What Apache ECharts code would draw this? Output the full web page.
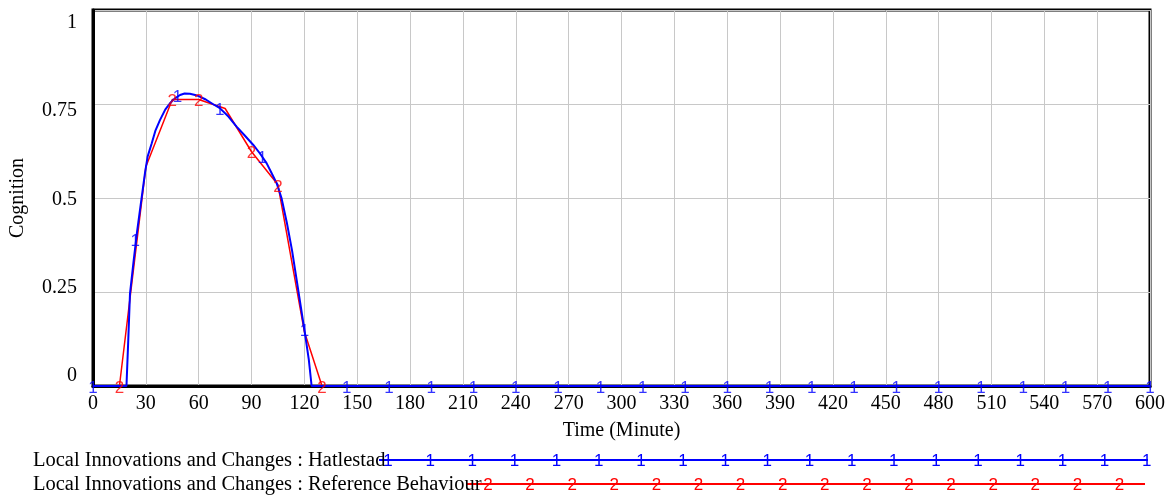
<!DOCTYPE html>
<html>
<head>
<meta charset="utf-8">
<script src="https://cdn.jsdelivr.net/npm/echarts@6/dist/echarts.min.js"></script>
<style>
  html, body { margin: 0; padding: 0; background: #fff; }
  #chart { width: 1174px; height: 497px; }
</style>
</head>
<body>
<div id="chart"></div>
<script>
// Hatlestad simulation run (minutes -> cognition)
const hatT = [0, 19, 20, 21, 23, 25, 27, 29.5, 31, 33.3, 35.5, 38, 41, 43.7, 46.5, 49.4, 52, 55, 58, 60,
  64, 68, 72, 77, 81.5, 86, 91, 95, 98.6, 101, 104.3, 107, 110, 113, 115.6, 118, 120.3, 122.5, 124.1, 600]
const hatV = [0, 0, 0.12, 0.246, 0.33, 0.41, 0.48, 0.566, 0.61, 0.645, 0.68, 0.707, 0.735, 0.752, 0.765, 0.774, 0.778, 0.777, 0.774, 0.771,
  0.762, 0.75, 0.739, 0.716, 0.69, 0.667, 0.641, 0.617, 0.592, 0.57, 0.539, 0.5, 0.435, 0.36, 0.282, 0.21, 0.14, 0.07, 0, 0]

// reference behaviour
const refT = [0, 15, 30, 45, 60, 75, 90, 105, 120, 130]
const refV = [0, 0, 0.583, 0.762, 0.762, 0.738, 0.623, 0.535, 0.144, 0]

// where the "1" / "2" line markers sit
const hatMarkT = [0, 24, 48, 72, 96, 120, 144, 168, 192, 216, 240, 264, 288, 312, 336, 360,
  384, 408, 432, 456, 480, 504, 528, 552, 576, 600]
const hatMarkV = [0, 0.39, 0.774, 0.739, 0.61, 0.15, 0, 0, 0, 0, 0, 0, 0, 0, 0, 0,
  0, 0, 0, 0, 0, 0, 0, 0, 0, 0]
const refMarkIdx = [1, 3, 4, 6, 7, 9]

const xTicks = { min: 0, max: 600, step: 30 }
const yTickLabels = [0, 0.25, 0.5, 0.75, 1]

const seriesNames = ['Local Innovations and Changes : Hatlestad', 'Local Innovations and Changes : Reference Behaviour']

const serif = '"Liberation Serif", "Times New Roman", serif'
const sans = '"Liberation Sans", Arial, sans-serif'
const BLUE = '#0000ff'
const RED = '#ff0000'

const chart = echarts.init(document.getElementById('chart'), null, { renderer: 'canvas' })

const zip = (a, b) => a.map((t, i) => [t, b[i]])

const markerLabel = (txt, color) => ({
  show: true,
  position: 'inside',
  formatter: txt,
  color: color,
  fontFamily: sans,
  fontSize: 17,
  offset: [0, 2]
})

// legend rows drawn under the plot
const legendRows = [
  { name: seriesNames[0], color: BLUE, mark: '1', y: 460, x1: 379, x2: 1148, m0: 388, step: 42.15, count: 19 },
  { name: seriesNames[1], color: RED, mark: '2', y: 484, x1: 467, x2: 1145, m0: 488, step: 42.1, count: 16 }
]
const graphic = []
legendRows.forEach(r => {
  graphic.push({ type: 'line', z: 5, shape: { x1: r.x1, y1: r.y, x2: r.x2, y2: r.y }, style: { stroke: r.color, lineWidth: 2 } })
  graphic.push({ type: 'text', z: 6, x: 33, y: r.y + 1, style: { text: r.name, fill: '#000', fontFamily: serif, fontSize: 20.5, verticalAlign: 'middle', align: 'left' } })
  for (let k = 0; k < r.count; k++) {
    graphic.push({ type: 'text', z: 6, x: r.m0 + k * r.step, y: r.y + 1, style: { text: r.mark, fill: r.color, fontFamily: sans, fontSize: 17, verticalAlign: 'middle', align: 'center' } })
  }
})

chart.setOption({
  animation: false,
  backgroundColor: '#fff',
  grid: { left: 93, right: 24, top: 10, bottom: 111, show: true, borderColor: '#000', borderWidth: 3, backgroundColor: 'transparent' },
  xAxis: {
    type: 'value',
    min: xTicks.min,
    max: xTicks.max,
    interval: xTicks.step,
    name: 'Time (Minute)',
    nameLocation: 'middle',
    nameGap: 35,
    nameTextStyle: { fontFamily: serif, fontSize: 20, color: '#000' },
    axisLine: { lineStyle: { color: '#000', width: 3 } },
    axisTick: { show: false },
    axisLabel: { fontFamily: serif, fontSize: 20, color: '#000', margin: 8 },
    splitLine: { show: true, lineStyle: { color: '#c8c8c8', width: 1 } }
  },
  yAxis: [
    {
      type: 'value',
      min: 0,
      max: 1,
      interval: 0.25,
      name: 'Cognition',
      nameLocation: 'middle',
      nameGap: 65,
      nameTextStyle: { fontFamily: serif, fontSize: 20, color: '#000' },
      axisLine: { show: true, lineStyle: { color: '#000', width: 3 } },
      axisTick: { show: false },
      axisLabel: { show: false },
      splitLine: { show: true, lineStyle: { color: '#c8c8c8', width: 1 } }
    },
    {
      // label-only axis: the original tool sets its tick labels slightly inside the range
      type: 'value',
      position: 'left',
      min: -0.0283,
      max: 1.036,
      axisLine: { show: false },
      axisTick: { show: false },
      splitLine: { show: false },
      axisLabel: { customValues: yTickLabels, fontFamily: serif, fontSize: 20, color: '#000', margin: 16 }
    }
  ],
  series: [
    {
      name: seriesNames[1],
      type: 'line',
      data: zip(refT, refV),
      showSymbol: false,
      lineStyle: { color: RED, width: 1.5 },
      z: 3
    },
    {
      name: seriesNames[0],
      type: 'line',
      data: zip(hatT, hatV),
      showSymbol: false,
      lineStyle: { color: BLUE, width: 2 },
      z: 4
    },
    {
      type: 'scatter',
      data: refMarkIdx.map(i => [refT[i], refV[i]]),
      symbolSize: 0,
      label: markerLabel('2', RED),
      z: 5
    },
    {
      type: 'scatter',
      data: zip(hatMarkT, hatMarkV),
      symbolSize: 0,
      label: markerLabel('1', BLUE),
      z: 6
    }
  ],
  graphic: graphic
})
</script>
</body>
</html>
